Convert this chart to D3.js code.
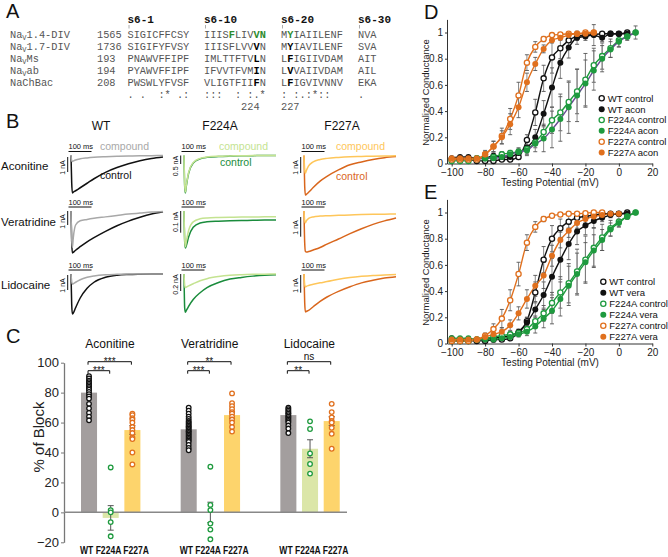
<!DOCTYPE html>
<html><head><meta charset="utf-8">
<script src="https://cdn.jsdelivr.net/npm/d3@7"></script>
<style>
body{margin:0;background:#fff}
svg{display:block}
</style>
</head><body>
<svg id="c" width="668" height="557" font-family='"Liberation Sans",Arial,sans-serif'></svg>
<script>
// ================= DATA =================
// Panel A: alignment
const alignNames = [["Na","V","1.4-DIV"],["Na","V","1.7-DIV"],["Na","V","Ms"],["Na","V","ab"],["NaChBac","",""]];
const alignStart = [1565, 1736, 193, 194, 208];
const alignHeaders = ["s6-1","s6-10","s6-20","s6-30"];
// <..> = green bold, {..} = black bold
const alignSeqs = [
  ["SIGICFFCSY","IIIS<F>LIV<VN>","M<Y>IAIILENF","NVA"],
  ["SIGIFYFVSY","IIISFLVV{V}N","M{Y}IAVILENF","SVA"],
  ["PNAWVFFIPF","IMLTTFTV{L}N","L{F}IGIIVDAM","AIT"],
  ["PYAWVFFIPF","IFVVTFVM{I}N","L{V}VAIIVDAM","AIL"],
  ["PWSWLYFVSF","VLIGTFII{F}N","L{F}IGVIVNNV","EKA"]
];
const alignConsensus = [". .  :* .:", ":::  : :.*", ": :.:*::  ", ".  "];
const alignPosLabels = ["224","227"];

// Panel B: current traces (nA) sampled at traceTime (ms)
const traceTime = [0,3,6,10,20,40,70,100,150,200,250,300,350,400];
const wtAconControl   = [0,-1.8,-2.5,-2.45,-2.35,-2.15,-1.85,-1.55,-1.12,-0.8,-0.55,-0.35,-0.2,-0.1];
const wtAconCompound  = [0,-0.35,-0.4,-0.37,-0.3,-0.22,-0.16,-0.12,-0.08,-0.05,-0.03,-0.02,-0.01,0];
const wtVeraControl   = [0,-2.2,-3.0,-2.95,-2.8,-2.55,-2.2,-1.9,-1.45,-1.05,-0.72,-0.45,-0.22,-0.06];
const wtVeraCompound  = [0,-2.0,-2.6,-1.9,-1.0,-0.7,-0.6,-0.52,-0.42,-0.32,-0.22,-0.15,-0.08,-0.04];
const wtLidoControl   = [0,-2.0,-2.67,-2.6,-2.25,-1.6,-0.95,-0.55,-0.22,-0.08,-0.03,-0.01,0,0];
const wtLidoCompound  = [0,-0.5,-0.68,-0.65,-0.55,-0.38,-0.22,-0.13,-0.05,-0.02,0,0,0,0];
const f224AconControl  = [0,-1.8,-2.2,-1.8,-1.05,-0.45,-0.2,-0.11,-0.06,-0.035,-0.02,-0.01,0,0];
const f224AconCompound = [0,-1.7,-2.15,-1.75,-1.0,-0.42,-0.17,-0.09,-0.045,-0.025,-0.012,-0.005,0,0];
const f224VeraControl  = [0,-0.14,-0.17,-0.16,-0.12,-0.075,-0.055,-0.05,-0.047,-0.045,-0.044,-0.043,-0.042,-0.042];
const f224VeraCompound = [0,-0.13,-0.165,-0.14,-0.09,-0.05,-0.036,-0.032,-0.03,-0.029,-0.028,-0.028,-0.027,-0.027];
const f224LidoControl  = [0,-0.4,-0.45,-0.43,-0.38,-0.3,-0.22,-0.16,-0.1,-0.06,-0.04,-0.025,-0.015,-0.01];
const f224LidoCompound = [0,-0.13,-0.16,-0.155,-0.14,-0.115,-0.08,-0.055,-0.03,-0.015,-0.008,-0.004,-0.002,0];
const f227AconControl  = [0,-1.9,-2.47,-2.43,-2.3,-2.0,-1.6,-1.3,-0.9,-0.58,-0.4,-0.25,-0.14,-0.07];
const f227AconCompound = [0,-0.9,-1.1,-0.95,-0.65,-0.4,-0.25,-0.18,-0.12,-0.08,-0.06,-0.04,-0.03,-0.02];
const f227VeraControl  = [0,-1.6,-2.05,-2.08,-2.06,-1.98,-1.85,-1.68,-1.42,-1.15,-0.9,-0.68,-0.5,-0.35];
const f227VeraCompound = [0,-0.5,-0.6,-0.5,-0.38,-0.3,-0.26,-0.24,-0.22,-0.2,-0.18,-0.17,-0.16,-0.15];
const f227LidoControl  = [0,-1.6,-2.15,-2.12,-2.05,-1.85,-1.55,-1.3,-0.98,-0.72,-0.5,-0.35,-0.23,-0.15];
const f227LidoCompound = [0,-0.6,-0.73,-0.7,-0.65,-0.58,-0.5,-0.43,-0.3,-0.2,-0.13,-0.08,-0.05,-0.03];
const bGenos = ["WT","F224A","F227A"];
const bDrugs = ["Aconitine","Veratridine","Lidocaine"];
const scaleBarNA = {WT:[1,1,1], F224A:[0.5,0.1,0.2], F227A:[1,1,1]};
const scaleBarLabel = {WT:["1 nA","1 nA","1 nA"], F224A:["0.5 nA","0.1 nA","0.2 nA"], F227A:["1 nA","1 nA","1 nA"]};

// Panel C: % of block
const cDrugs = ["Aconitine","Veratridine","Lidocaine"];
const cGenos = ["WT","F224A","F227A"];
const meanAcon = [80, -3.7, 55];
const meanVera = [55.5, 0, 65];
const meanLido = [65, 42.5, 61];
const semAcon = [1.8, 8.2, 3];
const semVera = [1.6, 6.8, 2.2];
const semLido = [1.2, 6, 3];
const ptsAconWT = [91,89.5,88,87,86,85,84,83,82,80.5,79,77.5,76,72.5,69.5,66.5,64,61.5];
const ptsAconF224 = [30,1.5,0,-6.5,-16];
const ptsAconF227 = [66,65,63,62,60,57,55,53,50,49,40,32];
const ptsVeraWT = [70,68,66,64,62.5,61,60,59,58,57,56,55,54,53,52,51,50,49,48,47,45,43,41.5];
const ptsVeraF224 = [30.5,5,1.5,-7.5,-11.5,-18];
const ptsVeraF227 = [79.5,73,71,69,67,66,64,62,60,57,54];
const ptsLidoWT = [70,69,68,67,66,65,64,63,62,61,60,58,56,53];
const ptsLidoF224 = [60.8,55.7,39.4,32.3,25.9];
const ptsLidoF227 = [72.5,67,63.5,61,60,56.5,52.5,42.5];
const sigComparisons = [
  {drug:"Aconitine", a:"WT", b:"F224A", label:"***", level:0},
  {drug:"Aconitine", a:"WT", b:"F227A", label:"***", level:1},
  {drug:"Veratridine", a:"WT", b:"F224A", label:"***", level:0},
  {drug:"Veratridine", a:"WT", b:"F227A", label:"**", level:1},
  {drug:"Lidocaine", a:"WT", b:"F224A", label:"**", level:0},
  {drug:"Lidocaine", a:"WT", b:"F227A", label:"ns", level:1}
];
const cTicks = [-20,0,20,40,60,80,100];

// Panels D/E: conductance-voltage
const ivVolt = [-100,-95,-90,-85,-80,-75,-70,-65,-60,-55,-50,-45,-40,-35,-30,-25,-20,-15,-10,-5,0,5,10];
const dWtCtrl   = [0.03,0.03,0.03,0.02,0.02,0.02,0.03,0.03,0.05,0.18,0.39,0.65,0.81,0.88,0.94,0.97,0.98,0.985,0.99,0.99,0.99,1.0,null];
const dWtAcon   = [0.04,0.05,0.05,0.04,0.04,0.06,0.05,0.05,0.08,0.12,0.20,0.38,0.58,0.77,0.885,0.96,0.97,0.98,0.96,0.99,0.99,0.99,null];
const dF224Ctrl = [0.02,0.02,0.02,0.04,0.04,0.05,0.07,0.08,0.09,0.11,0.16,0.24,0.33,0.39,0.47,0.55,0.64,0.75,0.82,0.88,0.94,0.97,1.0];
const dF224Acon = [0.03,0.03,0.03,0.03,0.04,0.04,0.05,0.07,0.09,0.10,0.15,0.19,0.26,0.34,0.43,0.52,0.61,0.71,0.80,0.87,0.93,0.97,1.0];
const dF227Ctrl = [0.03,0.03,0.03,0.03,0.07,0.13,0.21,0.34,0.52,0.77,0.89,0.95,0.98,0.985,0.99,0.99,1.0,1.0,null,null,null,null,null];
const dF227Acon = [0.04,0.04,0.04,0.04,0.07,0.13,0.20,0.30,0.43,0.62,0.76,0.875,0.94,0.96,0.98,0.99,0.99,1.0,null,null,null,null,null];
const dWtCtrlSem   = [.01,.01,.01,.01,.01,.01,.01,.01,.02,.04,.1,.1,.12,.08,.05,.03,.02,.01,.01,.01,.01,.01,0];
const dWtAconSem   = [.01,.01,.01,.01,.01,.02,.01,.02,.03,.05,.06,.1,.15,.12,.08,.05,.03,.08,.03,.02,.01,.01,0];
const dF224CtrlSem = [.01,.01,.01,.01,.01,.02,.02,.02,.02,.03,.04,.06,.1,.14,.15,.17,.2,.13,.1,.07,.05,.03,.01];
const dF224AconSem = [.01,.01,.01,.01,.01,.02,.02,.02,.03,.04,.06,.1,.14,.17,.2,.2,.18,.15,.1,.06,.04,.02,.05];
const dF227CtrlSem = [.01,.01,.01,.01,.02,.04,.06,.08,.1,.06,.04,.02,.01,.01,.01,.01,.01,.01,0,0,0,0,0];
const dF227AconSem = [.01,.01,.01,.01,.03,.04,.05,.08,.08,.07,.05,.03,.02,.02,.01,.01,.01,.01,0,0,0,0,0];
const eWtCtrl   = [0.02,0.02,0.02,0.02,0.02,0.03,0.03,0.04,0.08,0.17,0.39,0.64,0.80,0.88,0.93,0.96,0.97,0.98,0.99,0.99,0.99,1.0,null];
const eWtVera   = [0.04,0.03,0.03,0.03,0.03,0.04,0.05,0.06,0.09,0.16,0.26,0.37,0.51,0.64,0.76,0.855,0.90,0.935,0.96,0.98,0.99,0.99,null];
const eF224Ctrl = [0.02,0.02,0.02,0.03,0.04,0.05,0.06,0.07,0.08,0.11,0.17,0.23,0.31,0.39,0.46,0.55,0.64,0.73,0.81,0.88,0.93,0.97,1.0];
const eF224Vera = [0.04,0.04,0.04,0.03,0.03,0.03,0.04,0.05,0.07,0.09,0.13,0.19,0.25,0.34,0.44,0.53,0.62,0.71,0.79,0.87,0.92,0.97,1.0];
const eF227Ctrl = [0.02,0.02,0.02,0.03,0.06,0.11,0.19,0.33,0.53,0.77,0.89,0.95,0.975,0.985,0.99,0.99,0.995,1.0,1.0,null,null,null,null];
const eF227Vera = [0.03,0.03,0.03,0.03,0.05,0.07,0.09,0.14,0.23,0.34,0.44,0.52,0.67,0.79,0.86,0.92,0.95,0.97,0.98,0.99,0.99,null,null];
const eWtCtrlSem   = [.01,.01,.01,.01,.01,.01,.01,.01,.02,.03,.08,.1,.1,.07,.05,.03,.02,.01,.01,.01,.01,.01,0];
const eWtVeraSem   = [.01,.01,.01,.01,.01,.01,.01,.02,.02,.04,.06,.1,.14,.15,.12,.1,.07,.05,.03,.02,.01,.01,0];
const eF224CtrlSem = [.01,.01,.01,.01,.01,.02,.02,.02,.02,.03,.04,.06,.08,.12,.15,.17,.18,.15,.1,.06,.04,.02,.01];
const eF224VeraSem = [.01,.01,.01,.01,.01,.02,.02,.02,.02,.03,.05,.07,.1,.13,.15,.16,.15,.12,.08,.05,.03,.02,.01];
const eF227CtrlSem = [.01,.01,.01,.01,.02,.04,.07,.08,.09,.06,.04,.02,.01,.01,.01,.01,.01,0,0,0,0,0,0];
const eF227VeraSem = [.01,.01,.01,.01,.02,.03,.03,.04,.05,.07,.08,.1,.08,.06,.05,.04,.03,.02,.02,.01,.01,0,0];

// ================= DRAWING =================
const svg = d3.select("#c");
svg.append("rect").attr("width",668).attr("height",557).attr("fill","#fff");
const SANS = '"Liberation Sans",Arial,sans-serif';
const MONO = '"Liberation Mono","DejaVu Sans Mono",monospace';

const panelLabels = [{t:"A",x:6,y:18},{t:"B",x:6,y:128},{t:"C",x:6,y:343},{t:"D",x:424,y:19},{t:"E",x:424,y:199}];
svg.selectAll("text.pl").data(panelLabels).enter().append("text").attr("class","pl")
  .attr("x",d=>d.x).attr("y",d=>d.y).attr("font-size",20).attr("fill","#111").text(d=>d.t);

// ---------- Panel A ----------
(function(){
  const g = svg.append("g").attr("font-family",MONO);
  const blockX = [127.5, 204, 281, 358];
  const fs = 10.3, charW = fs*0.6;
  const rowY = [37.5, 49.5, 61.5, 73.5, 85.5];
  alignHeaders.forEach((h,i)=>{
    g.append("text").attr("x",blockX[i]).attr("y",22.5)
      .attr("font-weight","bold").attr("font-size",11).attr("fill","#111").text(h);
    g.append("line").attr("x1",blockX[i]+1.5).attr("x2",blockX[i]+1.5).attr("y1",25).attr("y2",28.5)
      .attr("stroke","#999").attr("stroke-width",0.8);
  });
  alignNames.forEach((n,i)=>{
    const t = g.append("text").attr("x",10).attr("y",rowY[i]).attr("font-size",fs).attr("fill","#555");
    t.append("tspan").text(n[0]);
    if(n[1]) t.append("tspan").attr("font-size",7).attr("dy",2).text(n[1]);
    if(n[2]) t.append("tspan").attr("dy",n[1]?-2:0).text(n[2]);
    g.append("text").attr("x",97).attr("y",rowY[i]).attr("font-size",fs).attr("fill","#555").text(alignStart[i]);
  });
  function parse(s){const out=[];let m=null,cur=null;for(const ch of s){
    if(ch==="<"){m="g";continue;} if(ch===">"||ch==="}"){m=null;continue;} if(ch==="{"){m="b";continue;}
    if(cur && cur.m===m) cur.s+=ch; else {cur={s:ch,m}; out.push(cur);} } return out;}
  alignSeqs.forEach((row,i)=>{
    row.forEach((blk,b)=>{
      const t = g.append("text").attr("x",blockX[b]).attr("y",rowY[i]).attr("font-size",fs).attr("fill","#555");
      parse(blk).forEach(c=>{
        t.append("tspan").attr("font-weight",c.m?"bold":"normal")
          .attr("fill",c.m==="g"?"#2e8b2e":(c.m==="b"?"#000":"#555")).text(c.s);
      });
    });
  });
  alignConsensus.forEach((s,b)=>{
    g.append("text").attr("x",blockX[b]).attr("y",97.8).attr("font-size",fs).attr("fill","#555")
      .style("white-space","pre").text(s);
  });
  g.append("text").attr("x",blockX[1]+9*charW).attr("y",109.5).attr("text-anchor","end")
    .attr("font-size",fs).attr("fill","#555").text(alignPosLabels[0]);
  g.append("text").attr("x",blockX[2]).attr("y",109.5)
    .attr("font-size",fs).attr("fill","#555").text(alignPosLabels[1]);
})();

// ---------- Panel B ----------
(function(){
  const g = svg.append("g");
  const traceTable = {
    WT:{Aconitine:[wtAconControl,wtAconCompound],Veratridine:[wtVeraControl,wtVeraCompound],Lidocaine:[wtLidoControl,wtLidoCompound]},
    F224A:{Aconitine:[f224AconControl,f224AconCompound],Veratridine:[f224VeraControl,f224VeraCompound],Lidocaine:[f224LidoControl,f224LidoCompound]},
    F227A:{Aconitine:[f227AconControl,f227AconCompound],Veratridine:[f227VeraControl,f227VeraCompound],Lidocaine:[f227LidoControl,f227LidoCompound]}
  };
  const colors = {WT:["#111","#a8a8a8"],F224A:["#1a8c3c","#c4e391"],F227A:["#d9661c","#fec65a"]};
  const x0 = {WT:71, F224A:184, F227A:304};
  const base = {Aconitine:155.5, Veratridine:211, Lidocaine:274};
  const ppn = {WT:[15,14,15], F224A:[17,217,85], F227A:[16,19.7,17.7]};
  const barOff = {WT:[1.5,0,1], F224A:[0,0,0], F227A:[1.5,6,1]};
  const titleX = {WT:101, F224A:220, F227A:342};
  const tW = 92;
  bGenos.forEach(gn=>{
    g.append("text").attr("x",titleX[gn]).attr("y",129.5).attr("text-anchor","middle")
      .attr("font-size",12).attr("fill","#111").text(gn);
  });
  bDrugs.forEach(dr=>{
    g.append("text").attr("x",1).attr("y",base[dr]+14.5).attr("font-size",11.5).attr("fill","#111").text(dr);
  });
  bGenos.forEach(gn=>{
    bDrugs.forEach((dr,di)=>{
      const xs = d3.scaleLinear().domain([0,400]).range([x0[gn], x0[gn]+tW]);
      const b = base[dr];
      const ys = d3.scaleLinear().domain([0,-1]).range([b, b+ppn[gn][di]]);
      const line = d3.line().x((d,i)=>xs(traceTime[i])).y(d=>ys(d)).curve(d3.curveMonotoneX);
      const [ctrl, comp] = traceTable[gn][dr];
      g.append("path").attr("d",line(ctrl)).attr("fill","none").attr("stroke",colors[gn][0]).attr("stroke-width",1.5);
      g.append("path").attr("d",line(comp)).attr("fill","none").attr("stroke",colors[gn][1]).attr("stroke-width",1.5);
      g.append("text").attr("x",xs(0)-2.5).attr("y",b-6.5).attr("font-size",7.5).attr("fill","#111").text("100 ms");
      g.append("line").attr("x1",xs(0)-2.5).attr("x2",xs(100)-2.5).attr("y1",b-4).attr("y2",b-4)
        .attr("stroke","#111").attr("stroke-width",1);
      const top = b + barOff[gn][di];
      const len = ys(-scaleBarNA[gn][di]) - b;
      g.append("line").attr("x1",xs(0)-3.3).attr("x2",xs(0)-3.3).attr("y1",top).attr("y2",top+len)
        .attr("stroke","#111").attr("stroke-width",1);
      const cy = top + Math.max(len/2, 10.5);
      g.append("text").attr("transform",`translate(${xs(0)-6},${cy}) rotate(-90)`).attr("text-anchor","middle")
        .attr("font-size",7).attr("fill","#111").text(scaleBarLabel[gn][di]);
    });
  });
  const tl = [
    {t:"compound",x:100,y:150,c:"#a8a8a8"},{t:"control",x:100,y:179,c:"#111"},
    {t:"compound",x:219,y:150,c:"#c4e391"},{t:"control",x:220,y:165.5,c:"#1a8c3c"},
    {t:"compound",x:336,y:150,c:"#fec65a"},{t:"control",x:336,y:180,c:"#d9661c"}
  ];
  g.selectAll("text.tl").data(tl).enter().append("text").attr("class","tl")
    .attr("x",d=>d.x).attr("y",d=>d.y).attr("font-size",10.5).attr("fill",d=>d.c).text(d=>d.t);
})();

// ---------- Panel C ----------
(function(){
  const g = svg.append("g");
  const means = {Aconitine:meanAcon, Veratridine:meanVera, Lidocaine:meanLido};
  const sems = {Aconitine:semAcon, Veratridine:semVera, Lidocaine:semLido};
  const pts = {Aconitine:[ptsAconWT,ptsAconF224,ptsAconF227], Veratridine:[ptsVeraWT,ptsVeraF224,ptsVeraF227], Lidocaine:[ptsLidoWT,ptsLidoF224,ptsLidoF227]};
  const barFill = {WT:"#a39e9e", F224A:"#dbe6a8", F227A:"#fdd46c"};
  const ptStroke = {WT:"#111", F224A:"#1e9a3e", F227A:"#e0701e"};
  const y = d3.scaleLinear().domain([-20,100]).range([542.3,362.7]);
  const gx = d3.scaleBand().domain(cDrugs).range([81,380]);
  const ix = d3.scaleBand().domain(cGenos).range([0,59.4]).paddingInner(0.26);
  const cx = (dr,gn)=>gx(dr)+ix(gn)+ix.bandwidth()/2;
  const ax = g.append("g").attr("transform","translate(64,0)")
    .call(d3.axisLeft(y).tickValues(cTicks).tickSize(3).tickSizeOuter(0).tickPadding(2));
  ax.select(".domain").attr("stroke","#777").attr("stroke-width",1.3);
  ax.selectAll(".tick line").attr("stroke","#777");
  ax.selectAll(".tick text").attr("font-family",SANS).attr("font-size",13).attr("fill","#222");
  g.append("text").attr("transform","translate(44,437) rotate(-90)").attr("text-anchor","middle")
    .attr("font-size",15).attr("fill","#222").text("% of Block");
  cDrugs.forEach(dr=>{
    g.append("text").attr("x",gx(dr)+29).attr("y",348).attr("text-anchor","middle").attr("font-size",12).attr("fill","#111").text(dr);
    cGenos.forEach((gn,k)=>{
      const m = means[dr][k];
      g.append("rect").attr("x",gx(dr)+ix(gn)).attr("width",ix.bandwidth())
        .attr("y",Math.min(y(m),y(0))).attr("height",Math.abs(y(m)-y(0))).attr("fill",barFill[gn]);
    });
    g.append("text").attr("x",gx(dr)-1).attr("y",554).attr("font-size",11).attr("font-weight","bold")
      .attr("textLength",69).attr("lengthAdjust","spacingAndGlyphs").attr("fill","#111").text(cGenos.join(" "));
  });
  g.append("line").attr("x1",64).attr("x2",347).attr("y1",y(0)).attr("y2",y(0)).attr("stroke","#888").attr("stroke-width",1.5);
  cDrugs.forEach(dr=>{
    cGenos.forEach((gn,k)=>{
      const m = means[dr][k], s = sems[dr][k], x = cx(dr,gn);
      g.append("line").attr("x1",x).attr("x2",x).attr("y1",y(m-s)).attr("y2",y(m+s)).attr("stroke","#555").attr("stroke-width",1);
      [m-s,m+s].forEach(v=>g.append("line").attr("x1",x-3).attr("x2",x+3).attr("y1",y(v)).attr("y2",y(v)).attr("stroke","#555").attr("stroke-width",1));
      pts[dr][k].forEach(v=>{
        g.append("circle").attr("cx",x).attr("cy",y(v)).attr("r",2.3).attr("fill","#fff")
          .attr("stroke",ptStroke[gn]).attr("stroke-width",1.3);
      });
    });
  });
  const levelY = [370.7, 361.7];
  sigComparisons.forEach(c=>{
    const x1 = cx(c.drug,c.a)-1, x2 = cx(c.drug,c.b)-1, yy = levelY[c.level];
    g.append("path").attr("d",`M${x1},${yy+3}V${yy}H${x2}V${yy+3}`).attr("fill","none").attr("stroke","#111").attr("stroke-width",1);
    g.append("text").attr("x",(x1+x2)/2).attr("y",c.label==="ns"?yy-1.5:yy+3).attr("text-anchor","middle")
      .attr("font-size",10).attr("fill","#111").text(c.label);
  });
})();

// ---------- Panels D & E ----------
function drawIV(cfg){
  const g = svg.append("g");
  const x = d3.scaleLinear().domain([-102.8,20]).range([447,652.3]);
  const y = d3.scaleLinear().domain([0,1.1]).range([cfg.y0, cfg.y0-144.1]);
  const ax = g.append("g").attr("transform",`translate(447,0)`)
    .call(d3.axisLeft(y).tickValues([0,.2,.4,.6,.8,1]).tickFormat(d=>d===0?"0":d===1?"1":d3.format(".1f")(d)).tickSize(2).tickSizeOuter(0).tickPadding(2));
  const bx = g.append("g").attr("transform",`translate(0,${cfg.y0})`)
    .call(d3.axisBottom(x).tickValues([-100,-80,-60,-40,-20,0,20]).tickSize(3).tickSizeOuter(0).tickPadding(2));
  [ax,bx].forEach(a=>{
    a.select(".domain").attr("stroke","#333");
    a.selectAll(".tick line").attr("stroke","#333");
    a.selectAll(".tick text").attr("font-family",SANS).attr("font-size",10).attr("fill","#222");
  });
  g.append("text").attr("x",550).attr("y",cfg.y0+22.5).attr("text-anchor","middle").attr("font-size",10).attr("fill","#222").text("Testing Potential (mV)");
  g.append("text").attr("transform",`translate(429,${cfg.y0-71}) rotate(-90)`).attr("text-anchor","middle")
    .attr("font-size",9.5).attr("fill","#222").text("Normalized Conductance");
  const line = d3.line().defined(d=>d.v!=null).x(d=>x(d.x)).y(d=>y(d.v)).curve(d3.curveMonotoneX);
  const series = cfg.series.map(s=>({...s, pts: ivVolt.map((v,i)=>({x:v, v:s.vals[i], e:s.sems[i]}))}));
  series.forEach(s=>{
    g.append("path").attr("d",line(s.pts)).attr("fill","none").attr("stroke",s.line||s.color).attr("stroke-width",1.4);
  });
  series.forEach(s=>{
    s.pts.filter(p=>p.v!=null && p.e>0.015).forEach(p=>{
      const xx = x(p.x);
      g.append("line").attr("x1",xx).attr("x2",xx).attr("y1",y(p.v-p.e)).attr("y2",y(p.v+p.e)).attr("stroke","#7a7a7a").attr("stroke-width",0.9);
      [p.v-p.e,p.v+p.e].forEach(v=>g.append("line").attr("x1",xx-2).attr("x2",xx+2).attr("y1",y(v)).attr("y2",y(v)).attr("stroke","#555").attr("stroke-width",0.9));
    });
  });
  series.forEach(s=>{
    s.pts.filter(p=>p.v!=null).forEach(p=>{
      g.append("circle").attr("cx",x(p.x)).attr("cy",y(p.v)).attr("r",s.filled?3:2.6)
        .attr("fill",s.filled?s.color:"#fff").attr("stroke",s.color).attr("stroke-width",s.filled?0:1.3);
    });
  });
  series.forEach((s,i)=>{
    const ly = cfg.legY + i*cfg.legDy;
    g.append("circle").attr("cx",cfg.legX).attr("cy",ly).attr("r",s.filled?3:2.6)
      .attr("fill",s.filled?s.color:"#fff").attr("stroke",s.color).attr("stroke-width",s.filled?0:1.3);
    g.append("text").attr("x",cfg.legX+6).attr("y",ly+3.4).attr("font-size",9.5).attr("fill","#111").text(s.name);
  });
}
const cBlack="#111", cGreen="#1e9a3e", cOrange="#e0701e";
drawIV({y0:163.5, legX:601.7, legY:98.3, legDy:10.85, series:[
  {name:"WT control", vals:dWtCtrl, sems:dWtCtrlSem, color:cBlack, filled:false},
  {name:"WT acon", vals:dWtAcon, sems:dWtAconSem, color:cBlack, filled:true},
  {name:"F224A control", vals:dF224Ctrl, sems:dF224CtrlSem, color:cGreen, filled:false},
  {name:"F224A acon", vals:dF224Acon, sems:dF224AconSem, color:cGreen, line:"#6a4c93", filled:true},
  {name:"F227A control", vals:dF227Ctrl, sems:dF227CtrlSem, color:cOrange, filled:false},
  {name:"F227A acon", vals:dF227Acon, sems:dF227AconSem, color:cOrange, filled:true}
]});
drawIV({y0:343.5, legX:603.3, legY:281.7, legDy:11, series:[
  {name:"WT control", vals:eWtCtrl, sems:eWtCtrlSem, color:cBlack, filled:false},
  {name:"WT vera", vals:eWtVera, sems:eWtVeraSem, color:cBlack, filled:true},
  {name:"F224A control", vals:eF224Ctrl, sems:eF224CtrlSem, color:cGreen, filled:false},
  {name:"F224A vera", vals:eF224Vera, sems:eF224VeraSem, color:cGreen, filled:true},
  {name:"F227A control", vals:eF227Ctrl, sems:eF227CtrlSem, color:cOrange, filled:false},
  {name:"F227A vera", vals:eF227Vera, sems:eF227VeraSem, color:cOrange, filled:true}
]});
</script>
</body></html>
